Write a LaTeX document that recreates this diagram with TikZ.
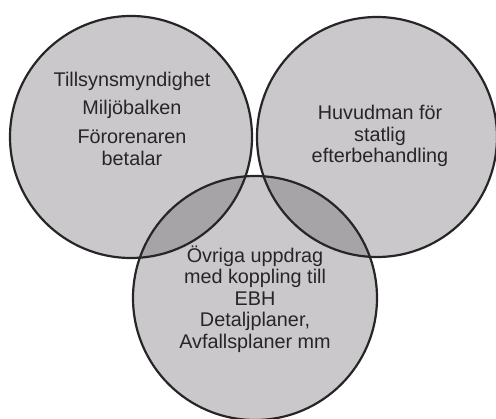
\documentclass[tikz,border=0pt]{standalone}
\usepackage{fontspec}
\setmainfont{Liberation Sans}
\definecolor{discgray}{RGB}{202,200,203}
\definecolor{lensgray}{RGB}{166,164,167}
\begin{document}
\begin{tikzpicture}[x=1pt,y=-1pt,
    ring/.style={line width=2.2pt,draw=black!85},
    label/.style={align=center,text=black!85,inner sep=0pt,
      font=\fontsize{19.8}{21.5}\selectfont}]
			\useasboundingbox (0,0) rectangle (496,419);
			\coordinate (L) at (131,137);
			\coordinate (R) at (377,137);
			\coordinate (B) at (255,298);

			\fill[discgray] (L) circle (121);
			\fill[discgray] (R) circle (120);
			\fill[discgray] (B) circle (122);
			\begin{scope}
			    \clip (L) circle (121);
			    \fill[lensgray] (B) circle (122);
			\end{scope}
			\begin{scope}
			    \clip (R) circle (120);
			    \fill[lensgray] (B) circle (122);
			\end{scope}

			\draw[ring] (L) circle (121);
			\draw[ring] (R) circle (120);
			\draw[ring] (B) circle (122);

			\node[label] (tillsyn) at (132,81) {Tillsynsmyndighet};
			\node[label] (miljo) at (132,109) {Miljöbalken};
			\node[label] (fororen) at (132,148) {Förorenaren\\betalar};

			\node[label] (huvudman) at (380,136) {Huvudman för\\statlig\\efterbehandling};

			\node[label] (ovriga) at (255,299) {Övriga uppdrag\\med koppling till\\EBH\\Detaljplaner,\\Avfallsplaner mm};
		    \end{tikzpicture}
\end{document}
